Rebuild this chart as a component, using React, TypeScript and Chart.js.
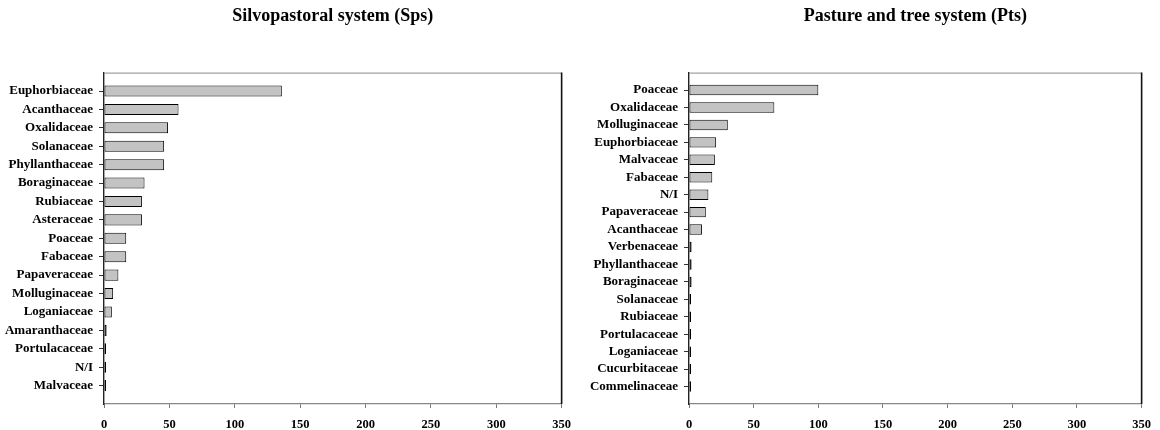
import React, { useEffect, useRef } from "react";
import { Chart, registerables } from "chart.js";

Chart.register(...registerables);

// Silvopastoral system (Sps): families, top to bottom
const spsFamilies = [
  "Euphorbiaceae",
  "Acanthaceae",
  "Oxalidaceae",
  "Solanaceae",
  "Phyllanthaceae",
  "Boraginaceae",
  "Rubiaceae",
  "Asteraceae",
  "Poaceae",
  "Fabaceae",
  "Papaveraceae",
  "Molluginaceae",
  "Loganiaceae",
  "Amaranthaceae",
  "Portulacaceae",
  "N/I",
  "Malvaceae",
];
const spsCounts = [136, 57, 49, 46, 46, 31, 29, 29, 17, 17, 11, 7, 6, 2, 1, 1, 1];

// Pasture and tree system (Pts): families, top to bottom
const ptsFamilies = [
  "Poaceae",
  "Oxalidaceae",
  "Molluginaceae",
  "Euphorbiaceae",
  "Malvaceae",
  "Fabaceae",
  "N/I",
  "Papaveraceae",
  "Acanthaceae",
  "Verbenaceae",
  "Phyllanthaceae",
  "Boraginaceae",
  "Solanaceae",
  "Rubiaceae",
  "Portulacaceae",
  "Loganiaceae",
  "Cucurbitaceae",
  "Commelinaceae",
];
const ptsCounts = [100, 66, 30, 21, 20, 18, 15, 13, 10, 2, 2, 2, 1, 1, 1, 1, 1, 1];

// Shared x axis
const xMin = 0;
const xMax = 350;
const xStep = 50;

const FONT_FAMILY = "'Liberation Serif', 'Times New Roman', serif";

// Closes the plot frame on the top and right sides
const frame = {
  id: "frame",
  afterDraw(chart: any) {
    const { ctx, chartArea } = chart;
    const { left, right, top, bottom } = chartArea;
    ctx.save();
    ctx.lineWidth = 1;
    ctx.strokeStyle = "#8a8a8a";
    ctx.beginPath();
    ctx.moveTo(left, top + 0.5);
    ctx.lineTo(right, top + 0.5);
    ctx.stroke();
    ctx.lineWidth = 1.6;
    ctx.strokeStyle = "#111";
    ctx.beginPath();
    ctx.moveTo(right, top);
    ctx.lineTo(right, bottom);
    ctx.stroke();
    ctx.restore();
  },
};

type PanelProps = {
  title: string;
  names: string[];
  values: number[];
  left: number;
  axisWidth: number;
  rightPad: number;
};

function Panel({ title, names, values, left, axisWidth, rightPad }: PanelProps) {
  const ref = useRef<HTMLCanvasElement | null>(null);

  useEffect(() => {
    if (!ref.current) return;
    const n = names.length;
    const chart = new Chart(ref.current, {
      type: "bar",
      data: {
        datasets: [
          {
            data: values.map((v, i) => ({ x: v, y: i })),
            backgroundColor: "#c3c3c3",
            borderColor: "#000",
            borderWidth: 1,
            borderSkipped: false,
            minBarLength: 2,
            categoryPercentage: 1,
            barPercentage: 0.6,
          },
        ],
      },
      options: {
        indexAxis: "y",
        animation: false,
        responsive: false,
        layout: { padding: { left: 0, right: rightPad, top: 0, bottom: 0 } },
        plugins: {
          legend: { display: false },
          tooltip: { enabled: false },
          title: {
            display: true,
            text: title,
            fullSize: false,
            color: "#000",
            font: { family: FONT_FAMILY, size: 18, weight: "bold" },
            padding: { top: 6, bottom: 45 },
          },
        },
        scales: {
          x: {
            type: "linear",
            min: xMin,
            max: xMax,
            ticks: {
              stepSize: xStep,
              color: "#000",
              font: { family: FONT_FAMILY, size: 12.5, weight: "bold" },
              padding: 9,
            },
            grid: {
              display: true,
              drawOnChartArea: false,
              drawTicks: true,
              tickLength: 4,
              tickColor: "#777",
            },
            border: { display: true, color: "#888", width: 1.2 },
            afterFit: (scale: any) => {
              scale.height = 26;
            },
          },
          y: {
            type: "linear",
            min: -1,
            max: n,
            reverse: true,
            offset: false,
            ticks: {
              stepSize: 1,
              autoSkip: false,
              color: "#000",
              padding: 6,
              font: { family: FONT_FAMILY, size: 13, weight: "bold" },
              callback: (v: any) => names[v] ?? "",
            },
            afterBuildTicks: (scale: any) => {
              scale.ticks = scale.ticks.filter(
                (t: any) => t.value >= 0 && t.value < n
              );
            },
            grid: {
              display: true,
              offset: false,
              drawOnChartArea: false,
              drawTicks: true,
              tickLength: 5,
              tickColor: "#333",
            },
            border: { display: true, color: "#222", width: 1.4 },
            afterFit: (scale: any) => {
              scale.width = axisWidth;
            },
          },
        },
      },
      plugins: [frame],
    });
    return () => chart.destroy();
  }, [title, names, values, axisWidth, rightPad]);

  return (
    <canvas
      ref={ref}
      width={580}
      height={430}
      style={{ position: "absolute", left, top: 0, width: 580, height: 430 }}
    />
  );
}

export default function App() {
  return (
    <div
      style={{
        position: "fixed",
        left: 0,
        top: 0,
        width: 1160,
        height: 430,
        background: "#fff",
      }}
    >
      <Panel
        title="Silvopastoral system (Sps)"
        names={spsFamilies}
        values={spsCounts}
        left={0}
        axisWidth={104}
        rightPad={17}
      />
      <Panel
        title="Pasture and tree system (Pts)"
        names={ptsFamilies}
        values={ptsCounts}
        left={580}
        axisWidth={109}
        rightPad={12}
      />
    </div>
  );
}
